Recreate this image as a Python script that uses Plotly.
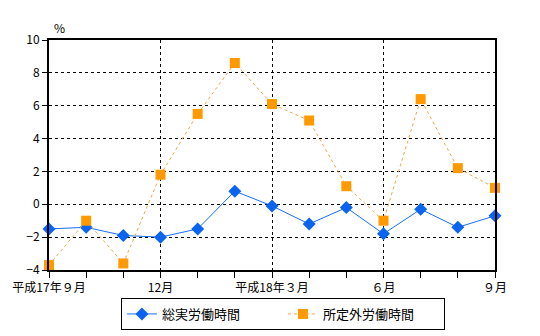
import plotly.graph_objects as go

# Months from 平成17年9月 to 平成18年9月 (13 monthly points)
months = list(range(13))
tick_positions = [0, 3, 6, 9, 12]
tick_labels = ["平成17年９月", "12月", "平成18年３月", "６月", "９月"]

# Year-on-year change (%)
total_hours = [-1.5, -1.4, -1.9, -2.0, -1.5, 0.8, -0.1, -1.2, -0.2, -1.8, -0.3, -1.4, -0.7]
overtime_hours = [-3.7, -1.0, -3.6, 1.8, 5.5, 8.6, 6.1, 5.1, 1.1, -1.0, 6.4, 2.2, 1.0]

font_family = "Noto Sans CJK JP, Noto Sans, sans-serif"

fig = go.Figure()
fig.add_trace(go.Scatter(
    x=months, y=total_hours, name="総実労働時間",
    mode="lines+markers",
    line=dict(color="#1a6ef5", width=1),
    marker=dict(symbol="diamond", size=10, color="#0a64f0"),
    cliponaxis=False,
))
fig.add_trace(go.Scatter(
    x=months, y=overtime_hours, name="所定外労働時間",
    mode="lines+markers",
    line=dict(color="#e8a84a", width=1, dash="dot"),
    marker=dict(symbol="square", size=10, color="#ff9900"),
    cliponaxis=False,
))

fig.update_layout(
    width=540, height=336,
    margin=dict(l=49, r=45, t=40, b=66, autoexpand=False),
    paper_bgcolor="white", plot_bgcolor="white",
    font=dict(family=font_family, size=12, color="black"),
    showlegend=True,
    legend=dict(
        orientation="h", x=0.524, xref="container", xanchor="center",
        y=1 - 298 / 336, yref="container", yanchor="top",
        bordercolor="black", borderwidth=1,
        font=dict(size=13), entrywidth=116, entrywidthmode="pixels",
    ),
    annotations=[dict(
        text="%", x=0, xref="paper", xanchor="left", xshift=3,
        y=1, yref="paper", yanchor="bottom", yshift=2,
        showarrow=False, font=dict(size=12),
    )],
)

fig.update_xaxes(
    range=[0, 12], automargin=False,
    tickmode="array", tickvals=tick_positions, ticktext=tick_labels,
    ticks="outside", ticklen=6, tickcolor="black", tickwidth=1,
    showgrid=True, gridcolor="black", griddash="dot", gridwidth=1,
    showline=True, linecolor="black", linewidth=2, mirror=True,
    zeroline=False,
    minor=dict(dtick=1, tick0=0, ticks="outside", ticklen=6, tickcolor="black", showgrid=False),
)
fig.update_yaxes(
    range=[-4, 10], dtick=2, tick0=-4, automargin=False,
    ticks="outside", ticklen=5, tickcolor="black",
    showgrid=True, gridcolor="black", griddash="dot", gridwidth=1,
    showline=True, linecolor="black", linewidth=2, mirror=True,
    zeroline=False,
)

fig.write_html("out.html")
